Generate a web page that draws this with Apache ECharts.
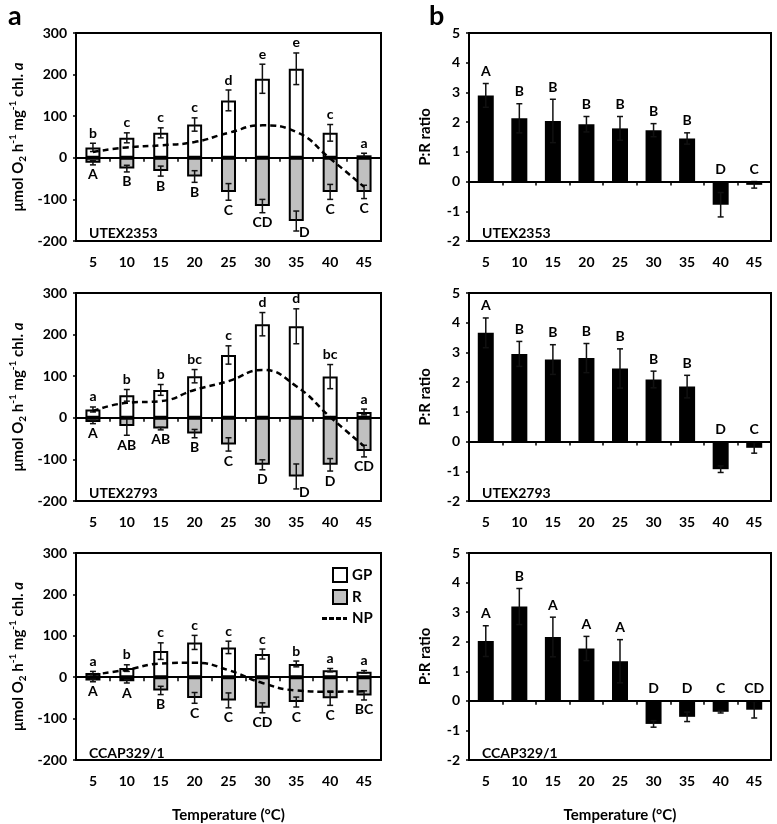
<!DOCTYPE html>
<html>
<head>
<meta charset="utf-8">
<script src="https://cdn.jsdelivr.net/npm/echarts@6/dist/echarts.min.js"></script>
<style>html,body{margin:0;padding:0;background:#fff;overflow:hidden}#c{width:777px;height:824px}</style>
</head>
<body>
<div id="c"></div>
<script>
const temps = ['5','10','15','20','25','30','35','40','45'];
const strains = ['UTEX2353','UTEX2793','CCAP329/1'];

const gpUTEX2353 = [25,48,60,80,138,190,214,60,6];
const gpErrUTEX2353 = [10,12,12,16,25,35,38,20,5];
const rUTEX2353 = [-12,-26,-32,-45,-82,-116,-152,-82,-82];
const rErrUTEX2353 = [5,8,12,14,20,16,24,18,16];
const npUTEX2353 = [14,25,30,38,60,78,62,-2,-70];
const gpLetUTEX2353 = ['b','c','c','c','d','e','e','c','a'];
const rLetUTEX2353 = ['A','B','B','B','C','CD','D','C','C'];

const gpUTEX2793 = [20,54,67,100,151,225,220,99,14];
const gpErrUTEX2793 = [6,14,13,16,22,28,42,29,7];
const rUTEX2793 = [-10,-20,-26,-38,-64,-113,-141,-113,-80];
const rErrUTEX2793 = [4,22,3,10,16,12,30,15,14];
const npUTEX2793 = [16,36,40,67,88,115,76,2,-68];
const gpLetUTEX2793 = ['a','b','b','bc','c','d','d','bc','a'];
const rLetUTEX2793 = ['A','AB','AB','B','C','D','D','D','CD'];

const gpCCAP = [10,22,63,84,72,56,32,17,13];
const gpErrCCAP = [4,8,20,17,15,12,7,4,3];
const rCCAP = [-8,-10,-32,-50,-56,-74,-60,-51,-44];
const rErrCCAP = [3,4,10,13,18,12,12,17,11];
const npCCAP = [6,18,33,35,17,-14,-32,-35,-34];
const gpLetCCAP = ['a','b','c','c','c','c','b','a','a'];
const rLetCCAP = ['A','A','B','C','C','CD','C','C','BC'];

const prUTEX2353 = [2.90,2.13,2.04,1.93,1.79,1.73,1.45,-0.78,-0.11];
const prErrUTEX2353 = [0.40,0.49,0.73,0.26,0.40,0.22,0.19,0.41,0.11];
const prLetUTEX2353 = ['A','B','B','B','B','B','B','D','C'];
const prUTEX2793 = [3.66,2.95,2.76,2.81,2.46,2.09,1.85,-0.93,-0.21];
const prErrUTEX2793 = [0.50,0.42,0.50,0.49,0.66,0.28,0.38,0.11,0.18];
const prLetUTEX2793 = ['A','B','B','B','B','B','B','D','C'];
const prCCAP = [2.02,3.19,2.16,1.77,1.34,-0.78,-0.54,-0.37,-0.30];
const prErrCCAP = [0.52,0.61,0.67,0.41,0.73,0.11,0.16,0.04,0.28];
const prLetCCAP = ['A','B','A','A','A','D','D','C','CD'];

const leftData = [
  {gp:gpUTEX2353, gpE:gpErrUTEX2353, r:rUTEX2353, rE:rErrUTEX2353, np:npUTEX2353, gl:gpLetUTEX2353, rl:rLetUTEX2353},
  {gp:gpUTEX2793, gpE:gpErrUTEX2793, r:rUTEX2793, rE:rErrUTEX2793, np:npUTEX2793, gl:gpLetUTEX2793, rl:rLetUTEX2793},
  {gp:gpCCAP, gpE:gpErrCCAP, r:rCCAP, rE:rErrCCAP, np:npCCAP, gl:gpLetCCAP, rl:rLetCCAP}
];
const rightData = [
  {v:prUTEX2353, e:prErrUTEX2353, l:prLetUTEX2353},
  {v:prUTEX2793, e:prErrUTEX2793, l:prLetUTEX2793},
  {v:prCCAP, e:prErrCCAP, l:prLetCCAP}
];

const FF = 'Lato, "Open Sans", sans-serif';
const rowTops = [33, 293, 553];
const gridH = 208;
const LET_FONT = 'bold 14px ' + FF;

// error bar + significance letter (letters looked up by dataIndex)
function makeErrRender(letters, mode, yMin) {
  return function (params, api) {
    const x = api.value(0), v = api.value(1), e = api.value(2);
    const t = api.coord([x, v + e]);
    const b = api.coord([x, v - e]);
    const hw = 3;
    const st = {stroke:'#111', lineWidth:1.5};
    const kids = [
      {type:'line', shape:{x1:t[0], y1:t[1], x2:b[0], y2:b[1]}, style:st},
      {type:'line', shape:{x1:t[0]-hw, y1:t[1], x2:t[0]+hw, y2:t[1]}, style:st},
      {type:'line', shape:{x1:b[0]-hw, y1:b[1], x2:b[0]+hw, y2:b[1]}, style:st}
    ];
    const lt = letters[params.dataIndex];
    if (mode === 'up') {
      kids.push({type:'text', style:{text:lt, x:t[0], y:t[1]-3, align:'center', verticalAlign:'bottom', font:LET_FONT, fill:'#000'}});
    } else if (mode === 'down') {
      const floor = api.coord([x, yMin])[1] - 2;
      let ty = b[1] + 3, tx = b[0];
      if (ty + 14 > floor) { ty = floor - 14; tx += 8; }
      kids.push({type:'text', style:{text:lt, x:tx, y:ty, align:'center', verticalAlign:'top', font:LET_FONT, fill:'#000'}});
    } else {
      const z = api.coord([x, 0]);
      const yy = Math.min(t[1], z[1]) - 5;
      kids.push({type:'text', style:{text:lt, x:t[0], y:yy, align:'center', verticalAlign:'bottom', font:LET_FONT, fill:'#000'}});
    }
    return {type:'group', children:kids};
  };
}

const grids = [], xAxes = [], yAxes = [], series = [], titles = [];
const tickLbl = {fontSize:14, fontWeight:'bold', color:'#000', fontFamily:FF};

for (let k = 0; k < 6; k++) {
  const row = k % 3, isLeft = k < 3;
  grids.push({left: isLeft ? 76 : 469, top: rowTops[row], width: isLeft ? 305 : 302, height: gridH,
    show:true, borderColor:'#000', borderWidth:2, backgroundColor:'transparent'});
  xAxes.push({type:'category', gridIndex:k, data:temps,
    axisLine:{onZero:true, lineStyle:{color:'#000', width:2}},
    axisTick:{show:true, interval:0, length:4, lineStyle:{color:'#000', width:1.5}},
    axisLabel:{show:false}, splitLine:{show:false}, z:5});
  const lab = {type:'category', gridIndex:k, data:temps, position:'bottom',
    axisLine:{show:false, onZero:false}, axisTick:{show:false},
    axisLabel:Object.assign({margin:14}, tickLbl), splitLine:{show:false}};
  if (row === 2) {
    lab.name = 'Temperature (°C)';
    lab.nameLocation = 'middle';
    lab.nameGap = 48;
    lab.nameTextStyle = {fontSize:15, fontWeight:'bold', color:'#000', fontFamily:FF};
  }
  xAxes.push(lab);
  const y = {type:'value', gridIndex:k,
    axisLine:{show:true, lineStyle:{color:'#000', width:2}},
    axisTick:{show:true, length:3, lineStyle:{color:'#000', width:1.5}},
    axisLabel:Object.assign({margin:9}, tickLbl), splitLine:{show:false},
    nameLocation:'middle', nameRotate:90};
  if (isLeft) {
    y.min = -200; y.max = 300; y.interval = 100;
    y.name = '{n|μmol O}{sub|2}{n| h}{sup|-1}{n| mg}{sup|-1}{n| chl. }{i|a}';
    y.nameGap = 48;
    const base = {fontSize:15, fontWeight:'bold', color:'#000', fontFamily:FF};
    y.nameTextStyle = {fontSize:15, fontWeight:'bold', color:'#000', fontFamily:FF, rich:{
      n: base,
      sub: Object.assign({}, base, {fontSize:10, verticalAlign:'bottom', lineHeight:20}),
      sup: Object.assign({}, base, {fontSize:10, verticalAlign:'top', lineHeight:20}),
      i: Object.assign({}, base, {fontStyle:'italic'})
    }};
  } else {
    y.min = -2; y.max = 5; y.interval = 1;
    y.name = 'P:R ratio';
    y.nameGap = 36;
    y.nameTextStyle = {fontSize:15, fontWeight:'bold', color:'#000', fontFamily:FF};
  }
  yAxes.push(y);
  titles.push({text: strains[row], left: (isLeft ? 76 : 469) + 8, top: rowTops[row] + 188,
    textStyle:{fontSize:14, fontWeight:'bold', color:'#000', fontFamily:FF}});
}
titles.push({text:'a', left:3, top:-2, textStyle:{fontSize:27, fontWeight:'bold', color:'#000', fontFamily:FF}});
titles.push({text:'b', left:424, top:-2, textStyle:{fontSize:27, fontWeight:'bold', color:'#000', fontFamily:FF}});

leftData.forEach((d, g) => {
  const xi = 2*g;
  series.push({name:'GP', type:'bar', xAxisIndex:xi, yAxisIndex:g, data:d.gp, barWidth:15, barGap:'-100%',
    itemStyle:{color:'#fff', borderColor:'#000', borderWidth:2}, z:2});
  series.push({name:'R', type:'bar', xAxisIndex:xi, yAxisIndex:g, data:d.r, barWidth:15, barGap:'-100%',
    itemStyle:{color:'#c0c0c0', borderColor:'#000', borderWidth:2}, z:2});
  series.push({type:'custom', xAxisIndex:xi, yAxisIndex:g, renderItem:makeErrRender(d.gl, 'up', -200), encode:{x:0, y:1}, z:3,
    data: d.gp.map((v,i)=>[i, v, d.gpE[i]]), silent:true});
  series.push({type:'custom', xAxisIndex:xi, yAxisIndex:g, renderItem:makeErrRender(d.rl, 'down', -200), encode:{x:0, y:1}, z:3,
    data: d.r.map((v,i)=>[i, v, d.rE[i]]), silent:true});
  series.push({name:'NP', type:'line', xAxisIndex:xi, yAxisIndex:g, data:d.np, smooth:0.5, symbol:'none', showSymbol:false,
    lineStyle:{color:'#000', width:2.5, type:[6,4]}, itemStyle:{color:'#000'}, z:4});
});

rightData.forEach((d, r) => {
  const g = r + 3, xi = 2*g;
  series.push({name:'P:R', type:'bar', xAxisIndex:xi, yAxisIndex:g, data:d.v, barWidth:16,
    itemStyle:{color:'#000'}, z:2});
  series.push({type:'custom', xAxisIndex:xi, yAxisIndex:g, renderItem:makeErrRender(d.l, 'pr', -2), encode:{x:0, y:1}, z:3,
    data: d.v.map((v,i)=>[i, v, d.e[i]]), silent:true});
});

const npIcon = 'path://M0,0h5v3H0z M7,0h5v3H7z M14,0h5v3h-5z M21,0h4v3h-4z';
const chart = echarts.init(document.getElementById('c'), null, {renderer:'canvas'});
chart.setOption({
  animation:false,
  backgroundColor:'#fff',
  title: titles,
  legend: [
    {data:[{name:'GP'},{name:'R'}], orient:'vertical', left:327, top:562, icon:'rect', itemWidth:14, itemHeight:14, itemGap:6,
      textStyle:{fontSize:15, fontWeight:'bold', color:'#000', fontFamily:FF}, selectedMode:false},
    {data:[{name:'NP', icon:npIcon, itemStyle:{color:'#000', borderWidth:0}}], orient:'vertical', left:317, top:606, itemWidth:25, itemHeight:3,
      textStyle:{fontSize:15, fontWeight:'bold', color:'#000', fontFamily:FF}, selectedMode:false}
  ],
  grid: grids,
  xAxis: xAxes,
  yAxis: yAxes,
  series: series
});
</script>
</body>
</html>
